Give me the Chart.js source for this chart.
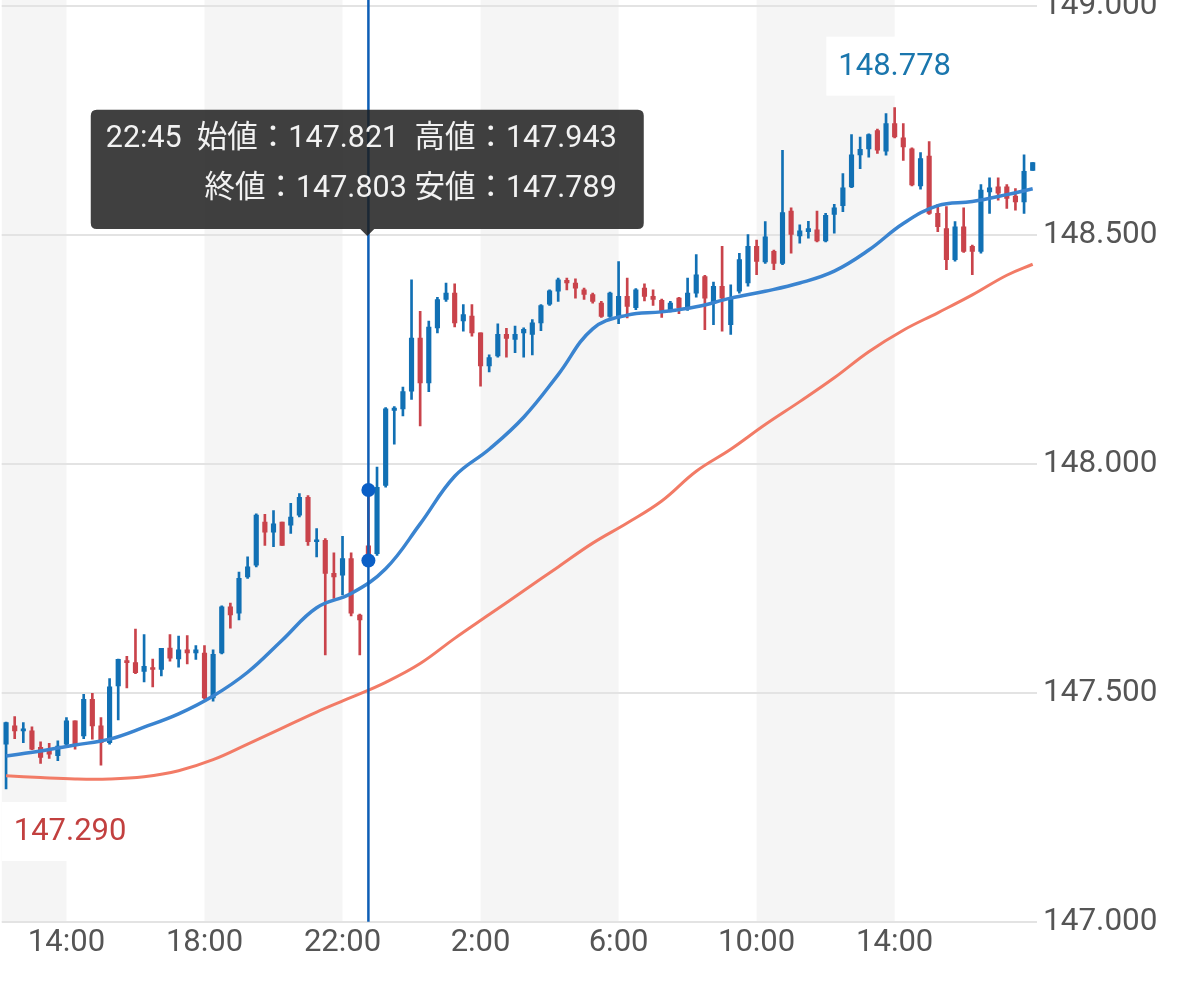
<!DOCTYPE html>
<html>
<head>
<meta charset="utf-8">
<title>15分足チャート</title>
<script src="https://cdn.jsdelivr.net/npm/chart.js@4.4.1/dist/chart.umd.min.js"></script>
<style>
html, body { margin: 0; padding: 0; background: #fff; }
#wrap { width: 1179px; height: 984px; }
</style>
</head>
<body>
<div id="wrap"><canvas id="chart" width="1179" height="984"></canvas></div>
<script>
var UP = '#1170b4';
var DOWN = '#c9434b';
var FONT = "Roboto, 'Noto Sans CJK JP', sans-serif";

// 15分足、12:15 から翌日 18:00 まで
var times = [];
for (var m = 12 * 60 + 15, n = 0; n < 120; n++, m += 15) {
    var hh = Math.floor(m / 60) % 24, mm = m % 60;
    times.push(hh + ':' + (mm < 10 ? '0' : '') + mm);
}
var tickTimes = ['14:00', '18:00', '22:00', '2:00', '6:00', '10:00'];
var yTicks = [147.0, 147.5, 148.0, 148.5, 149.0];

var opens = [
    147.388, 147.428, 147.417, 147.417, 147.381, 147.377, 147.363, 147.388, 147.439, 147.406,
    147.486, 147.428, 147.391, 147.515, 147.569, 147.566, 147.547, 147.555, 147.551, 147.598,
    147.574, 147.594, 147.587, 147.587, 147.489, 147.587, 147.688, 147.674, 147.753, 147.779,
    147.873, 147.851, 147.873, 147.866, 147.888, 147.927, 147.830, 147.833, 147.761, 147.757,
    147.793, 147.670, 147.821, 147.804, 147.953, 148.117, 148.120, 148.159, 148.275, 148.177,
    148.297, 148.359, 148.373, 148.312, 148.323, 148.286, 148.214, 148.236, 148.283, 148.272,
    148.286, 148.283, 148.308, 148.349, 148.377, 148.401, 148.395, 148.380, 148.370, 148.351,
    148.322, 148.319, 148.366, 148.341, 148.384, 148.366, 148.357, 148.337, 148.362, 148.341,
    148.373, 148.409, 148.351, 148.388, 148.304, 148.377, 148.395, 148.475, 148.441, 148.464,
    148.438, 148.552, 148.498, 148.507, 148.511, 148.487, 148.545, 148.564, 148.605, 148.675,
    148.688, 148.728, 148.683, 148.743, 148.712, 148.688, 148.607, 148.672, 148.547, 148.514,
    148.446, 148.518, 148.475, 148.464, 148.594, 148.605, 148.605, 148.585, 148.572, 148.641
];
var highs = [
    147.436, 147.448, 147.435, 147.426, 147.393, 147.390, 147.395, 147.446, 147.439, 147.497,
    147.499, 147.446, 147.531, 147.574, 147.580, 147.639, 147.627, 147.574, 147.597, 147.627,
    147.624, 147.625, 147.603, 147.603, 147.594, 147.690, 147.696, 147.764, 147.797, 147.891,
    147.890, 147.898, 147.873, 147.914, 147.935, 147.931, 147.859, 147.837, 147.806, 147.842,
    147.806, 147.672, 147.943, 147.993, 148.123, 148.125, 148.168, 148.402, 148.333, 148.312,
    148.364, 148.395, 148.393, 148.348, 148.348, 148.286, 148.238, 148.306, 148.296, 148.301,
    148.297, 148.315, 148.348, 148.380, 148.406, 148.406, 148.404, 148.384, 148.373, 148.355,
    148.375, 148.442, 148.406, 148.383, 148.393, 148.380, 148.360, 148.355, 148.364, 148.406,
    148.457, 148.412, 148.397, 148.475, 148.391, 148.460, 148.501, 148.489, 148.529, 148.467,
    148.685, 148.559, 148.522, 148.530, 148.552, 148.547, 148.567, 148.634, 148.719, 148.714,
    148.721, 148.731, 148.765, 148.778, 148.743, 148.690, 148.680, 148.704, 148.567, 148.562,
    148.529, 148.559, 148.478, 148.610, 148.625, 148.625, 148.610, 148.601, 148.675, 148.658
];
var lows = [
    147.290, 147.400, 147.391, 147.376, 147.346, 147.357, 147.352, 147.381, 147.377, 147.400,
    147.399, 147.342, 147.388, 147.441, 147.511, 147.542, 147.524, 147.513, 147.537, 147.569,
    147.556, 147.563, 147.573, 147.486, 147.482, 147.585, 147.641, 147.659, 147.750, 147.775,
    147.822, 147.819, 147.822, 147.848, 147.884, 147.822, 147.797, 147.583, 147.706, 147.714,
    147.668, 147.583, 147.789, 147.800, 147.949, 148.043, 148.105, 148.141, 148.083, 148.158,
    148.286, 148.355, 148.299, 148.290, 148.279, 148.170, 148.201, 148.233, 148.233, 148.243,
    148.233, 148.238, 148.291, 148.346, 148.355, 148.380, 148.362, 148.359, 148.351, 148.320,
    148.320, 148.306, 148.319, 148.337, 148.356, 148.346, 148.320, 148.332, 148.328, 148.335,
    148.364, 148.293, 148.304, 148.290, 148.283, 148.373, 148.388, 148.413, 148.438, 148.424,
    148.435, 148.460, 148.482, 148.493, 148.485, 148.485, 148.504, 148.551, 148.603, 148.645,
    148.670, 148.678, 148.674, 148.712, 148.663, 148.607, 148.600, 148.545, 148.507, 148.424,
    148.443, 148.462, 148.413, 148.460, 148.547, 148.576, 148.558, 148.554, 148.547, 148.641
];
var closes = [
    147.435, 147.417, 147.420, 147.377, 147.359, 147.366, 147.384, 147.439, 147.388, 147.486,
    147.428, 147.391, 147.513, 147.573, 147.566, 147.544, 147.558, 147.551, 147.597, 147.576,
    147.594, 147.587, 147.594, 147.489, 147.584, 147.688, 147.670, 147.750, 147.775, 147.888,
    147.851, 147.869, 147.822, 147.884, 147.927, 147.830, 147.833, 147.761, 147.753, 147.793,
    147.674, 147.659, 147.803, 147.949, 148.120, 148.122, 148.158, 148.275, 148.177, 148.299,
    148.359, 148.373, 148.308, 148.326, 148.286, 148.214, 148.232, 148.283, 148.274, 148.283,
    148.294, 148.308, 148.346, 148.378, 148.402, 148.395, 148.384, 148.370, 148.355, 148.322,
    148.373, 148.366, 148.344, 148.380, 148.366, 148.359, 148.330, 148.351, 148.341, 148.373,
    148.413, 148.362, 148.388, 148.362, 148.362, 148.446, 148.475, 148.442, 148.496, 148.438,
    148.549, 148.501, 148.509, 148.514, 148.487, 148.543, 148.559, 148.603, 148.675, 148.687,
    148.719, 148.685, 148.743, 148.714, 148.692, 148.609, 148.667, 148.547, 148.518, 148.446,
    148.518, 148.464, 148.464, 148.598, 148.603, 148.591, 148.580, 148.572, 148.639, 148.658
];

// 移動平均線 (1時間ごとに読み取り)
var maAt = [0, 4, 8, 12, 16, 20, 24, 28, 32, 36, 40, 44, 48, 52, 56, 60,
            64, 68, 72, 76, 80, 84, 88, 92, 96, 100, 104, 108, 112, 116, 119];
var fastMA = [147.362, 147.373, 147.386, 147.399, 147.425, 147.454, 147.493, 147.545,
              147.615, 147.686, 147.717, 147.771, 147.869, 147.973, 148.032, 148.102,
              148.195, 148.295, 148.325, 148.332, 148.343, 148.362, 148.377, 148.395,
              148.421, 148.467, 148.525, 148.564, 148.573, 148.588, 148.601];
var slowMA = [147.319, 147.315, 147.312, 147.312, 147.317, 147.330, 147.354, 147.388,
              147.423, 147.458, 147.490, 147.523, 147.564, 147.619, 147.671, 147.723,
              147.775, 147.827, 147.871, 147.919, 147.984, 148.032, 148.086, 148.136,
              148.188, 148.245, 148.292, 148.330, 148.369, 148.412, 148.436];

var picked = 42; // 22:45
var last = times.length - 1;

var spread = function(values){
    var out = times.map(function(){ return null; });
    maAt.forEach(function(idx, k){ out[idx] = values[k]; });
    return out;
};

var bodies = [], wicks = [], colors = [];
for (var i = 0; i < times.length; i++) {
    bodies.push([opens[i], closes[i]]);
    wicks.push([lows[i], highs[i]]);
    colors.push(closes[i] >= opens[i] ? UP : DOWN);
}

var shaded = function(label){
    var h = parseInt(label, 10);
    return ((h + 22) % 8) < 4;
};

var tag = function(ctx, text, cx, top, color, area){
    ctx.font = '31px ' + FONT;
    var w = ctx.measureText(text).width + 24, h = 59;
    var left = Math.min(Math.max(cx - w / 2, area.left), area.right - w);
    ctx.fillStyle = '#fff';
    ctx.fillRect(left, top, w, h);
    ctx.fillStyle = color;
    ctx.textAlign = 'center';
    ctx.textBaseline = 'middle';
    ctx.fillText(text, left + w / 2, top + h / 2 + 1);
};

var decor = {
    id: 'decor',
    beforeDraw: function(chart){
        var ctx = chart.ctx, a = chart.chartArea, xs = chart.scales.x;
        ctx.save();
        ctx.fillStyle = '#f5f5f5';
        var start = -1;
        for (var i = 0; i <= last; i++) {
            var g = i < last && shaded(times[i]);
            if (g && start < 0) start = i;
            if (!g && start >= 0) {
                var x0 = start === 0 ? a.left : xs.getPixelForValue(start);
                var x1 = xs.getPixelForValue(i);
                ctx.fillRect(x0, 0, x1 - x0, a.bottom);
                start = -1;
            }
        }
        ctx.restore();
    },
    afterDatasetsDraw: function(chart){
        var ctx = chart.ctx, a = chart.chartArea;
        var xs = chart.scales.x, ys = chart.scales.y;
        ctx.save();

        // 最高値・最安値
        var hi = 0, lo = 0;
        for (var i = 1; i < times.length; i++) {
            if (highs[i] > highs[hi]) hi = i;
            if (lows[i] < lows[lo]) lo = i;
        }
        tag(ctx, highs[hi].toFixed(3), xs.getPixelForValue(hi),
            ys.getPixelForValue(highs[hi]) - 12 - 59, '#1a76ad', a);
        tag(ctx, lows[lo].toFixed(3), xs.getPixelForValue(lo),
            ys.getPixelForValue(lows[lo]) + 13, '#c2403f', a);

        // クロスヘア
        var x = xs.getPixelForValue(picked);
        ctx.strokeStyle = '#0d5eb5';
        ctx.lineWidth = 2.5;
        ctx.beginPath();
        ctx.moveTo(x, 0);
        ctx.lineTo(x, a.bottom);
        ctx.stroke();
        ctx.fillStyle = '#0b5fc6';
        [highs[picked], lows[picked]].forEach(function(v){
            ctx.beginPath();
            ctx.arc(x, ys.getPixelForValue(v), 7, 0, Math.PI * 2);
            ctx.fill();
        });
        ctx.restore();
    }
};

Chart.Tooltip.positioners.pinned = function(items){
    if (!items.length) return false;
    return { x: items[0].element.x, y: this.chart.chartArea.top + 230 };
};

var chart = new Chart(document.getElementById('chart').getContext('2d'), {
    type: 'bar',
    data: {
        labels: times,
        datasets: [
            {
                type: 'line', label: 'MA短期', data: spread(fastMA),
                borderColor: '#3a84d0', borderWidth: 3.5, pointRadius: 0,
                tension: 0.4, spanGaps: true, order: 0
            },
            {
                type: 'line', label: 'MA長期', data: spread(slowMA),
                borderColor: '#f27b66', borderWidth: 3, pointRadius: 0,
                tension: 0.4, spanGaps: true, order: 1
            },
            {
                label: '実体', data: bodies, backgroundColor: colors,
                barThickness: 4.5, minBarLength: 2, grouped: false, order: 2
            },
            {
                label: 'ヒゲ', data: wicks, backgroundColor: colors,
                barThickness: 2, grouped: false, order: 3
            }
        ]
    },
    options: {
        responsive: false,
        animation: false,
        events: [],
        layout: { padding: { top: 6, right: 0, bottom: 19, left: 0 } },
        scales: {
            x: {
                offset: true,
                grid: { display: false, drawTicks: false },
                border: { display: false },
                ticks: {
                    autoSkip: false, maxRotation: 0, padding: 3,
                    color: '#555', font: { family: FONT, size: 31 },
                    callback: function(v, i){
                        return i < last && tickTimes.indexOf(times[i]) >= 0 ? times[i] : '';
                    }
                },
                afterFit: function(s){ s.paddingLeft = 0; s.paddingRight = 0; }
            },
            y: {
                position: 'right',
                min: yTicks[0], max: yTicks[yTicks.length - 1],
                grid: { color: '#e3e3e3', lineWidth: 2, drawTicks: false },
                border: { display: false },
                ticks: {
                    stepSize: 0.5, padding: 6,
                    color: '#555', font: { family: FONT, size: 31.5 },
                    callback: function(v){ return v.toFixed(3); }
                },
                afterFit: function(s){ s.width = 142; s.paddingTop = 0; s.paddingBottom = 0; }
            }
        },
        plugins: {
            legend: { display: false },
            tooltip: {
                position: 'pinned',
                xAlign: 'center', yAlign: 'bottom',
                caretSize: 7, caretPadding: 0, cornerRadius: 6,
                backgroundColor: 'rgba(30,30,30,0.85)',
                bodyColor: '#f2f2f2',
                bodyFont: { family: FONT, size: 30.5 },
                bodyAlign: 'right', bodySpacing: 14,
                padding: { top: 11, bottom: 21, left: 15, right: 27 },
                displayColors: false,
                filter: function(item){ return item.datasetIndex === 2; },
                callbacks: {
                    title: function(){ return []; },
                    label: function(c){
                        var i = c.dataIndex;
                        return [
                            times[i] + '  始値：' + opens[i].toFixed(3) + '  高値：' + highs[i].toFixed(3),
                            '終値：' + closes[i].toFixed(3) + ' 安値：' + lows[i].toFixed(3)
                        ];
                    }
                }
            }
        }
    },
    plugins: [decor]
});

chart.tooltip.setActiveElements([{ datasetIndex: 2, index: picked }], { x: 0, y: 0 });
chart.update();
</script>
</body>
</html>
